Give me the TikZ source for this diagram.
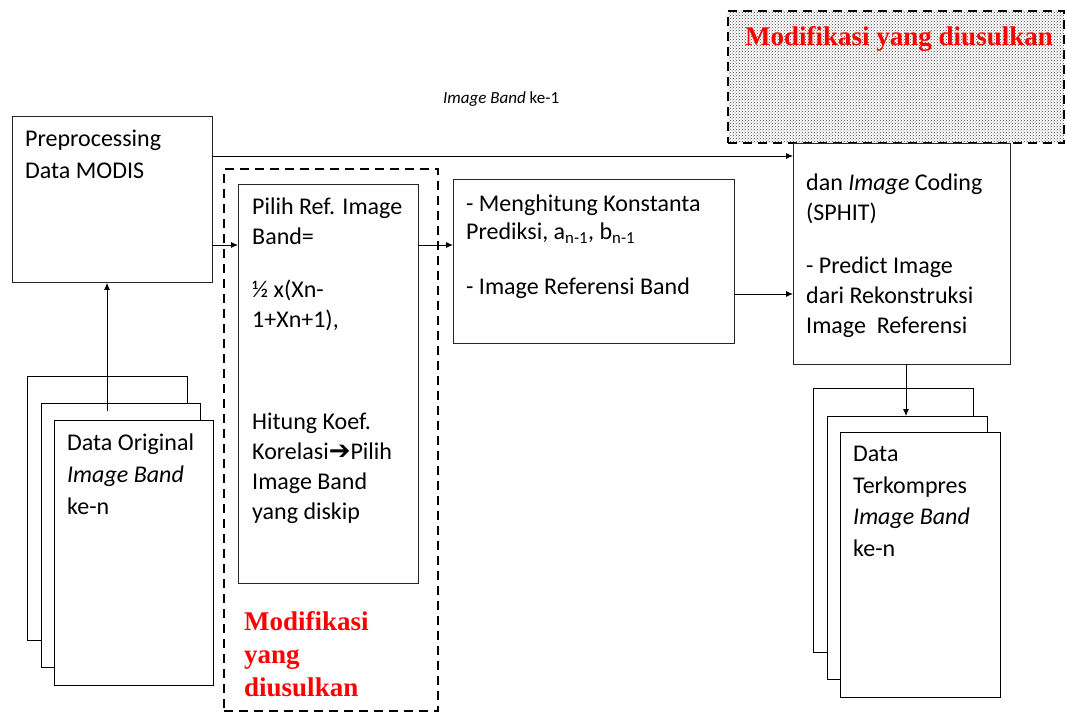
\documentclass[tikz,border=0pt]{standalone}
\usepackage{fontspec}
\setmainfont{Carlito}
\newfontfamily\tnr{Liberation Serif}
\newfontfamily\djv{DejaVu Sans}
\usetikzlibrary{arrows.meta,patterns}
\begin{document}
\begin{tikzpicture}[x=1pt,y=-1pt,
  box/.style={draw=black!85,line width=0.8pt,fill=white,anchor=north west,inner sep=0pt},
  page/.style={draw=black,line width=1.3pt,fill=white,anchor=north west,inner sep=0pt},
  txt/.style={anchor=north west,inner sep=0pt,align=left,font=\fontsize{24}{31.5}\selectfont},
  dashbox/.style={draw=black,line width=1.6pt,dash pattern=on 9pt off 6pt,anchor=north west,inner sep=0pt},
  redlbl/.style={text=red,font=\tnr\bfseries\fontsize{27}{33}\selectfont,inner sep=0pt,align=left},
  arr/.style={-{Latex[length=7pt,width=6pt]},line width=0.9pt}]
\useasboundingbox (0,0) rectangle (1066,713);

% hatched proposal box
\node[dashbox,pattern=crosshatch dots,pattern color=black!75,minimum width=336pt,minimum height=132pt] (prop) at (727,10) {};
\node[redlbl,anchor=base] (proplbl) at (899,45) {Modifikasi yang diusulkan};

% dashed modification box
\node[dashbox,minimum width=214pt,minimum height=542pt] (mod) at (223,168) {};
\node[redlbl,anchor=north west] (modlbl) at (244,611) {Modifikasi\\yang\\diusulkan};

% preprocessing
\node[box,minimum width=200pt,minimum height=166pt] (pre) at (12,116) {};
\node[txt] (pretxt) at (25,130) {Preprocessing\\Data MODIS};

% pilih
\node[box,minimum width=180pt,minimum height=399pt] (pilih) at (238,184) {};
\node[txt,font=\fontsize{24}{30}\selectfont] (pilihtxt) at (252,198) {Pilih Ref. Image\\Band=\\[23pt]½ x(Xn-\\1+Xn+1),\\[72pt]Hitung Koef.\\Korelasi{\djv\bfseries\fontsize{26}{30}\selectfont ➔}Pilih\\Image Band\\yang diskip};

% hitung
\node[box,minimum width=281pt,minimum height=164pt] (hitung) at (453,179) {};
\node[txt,font=\fontsize{24}{28}\selectfont] (hitungtxt) at (466,195) {- Menghitung Konstanta\\Prediksi, a\textsubscript{n-1}, b\textsubscript{n-1}\\[27pt]- Image Referensi Band};

% coding
\node[box,minimum width=217pt,minimum height=221pt] (coding) at (793,143) {};
\node[txt,font=\fontsize{24}{30}\selectfont] (codingtxt) at (806,174) {dan \textit{Image} Coding\\(SPHIT)\\[23pt]- Predict Image\\dari Rekonstruksi\\Image\ \ Referensi};

% label on top line
\node[inner sep=0pt,anchor=base west,font=\fontsize{17}{19}\selectfont] (toplbl) at (443,103) {\textit{Image Band} ke-1};

% original stack
\node[page,minimum width=160pt,minimum height=264pt] (o1) at (27,376) {};
\node[page,minimum width=159pt,minimum height=264pt] (o2) at (41,403) {};
\coordinate (ostart) at (107,411);
\node[page,minimum width=159pt,minimum height=265pt] (o3) at (54,420) {};
\node[txt,font=\fontsize{24}{32}\selectfont] (otxt) at (67,434) {Data Original\\\textit{Image Band}\\ke-n};

% compressed stack
\node[page,minimum width=160pt,minimum height=264pt] (c1) at (813,388) {};
\node[page,minimum width=160pt,minimum height=263pt] (c2) at (827,416) {};
\node[page,minimum width=160pt,minimum height=265pt] (c3) at (840,432) {};
\node[txt] (ctxt) at (853,446) {Data\\Terkompres\\\textit{Image Band}\\ke-n};

% connectors
\coordinate (p1) at (212,156);
\draw[arr] (p1) -- (p1 -| coding.west);
\coordinate (p2) at (212,245);
\draw[arr] (p2) -- (p2 -| pilih.west);
\coordinate (p3) at (418,245);
\draw[arr] (p3) -- (p3 -| hitung.west);
\coordinate (p4) at (734,294);
\draw[arr] (p4) -- (p4 -| coding.west);
\draw[arr] (ostart) -- (ostart |- pre.south);
\coordinate (cstart) at (906,364);
\draw[arr] (cstart) -- (cstart |- c2.north);
\end{tikzpicture}
\end{document}
